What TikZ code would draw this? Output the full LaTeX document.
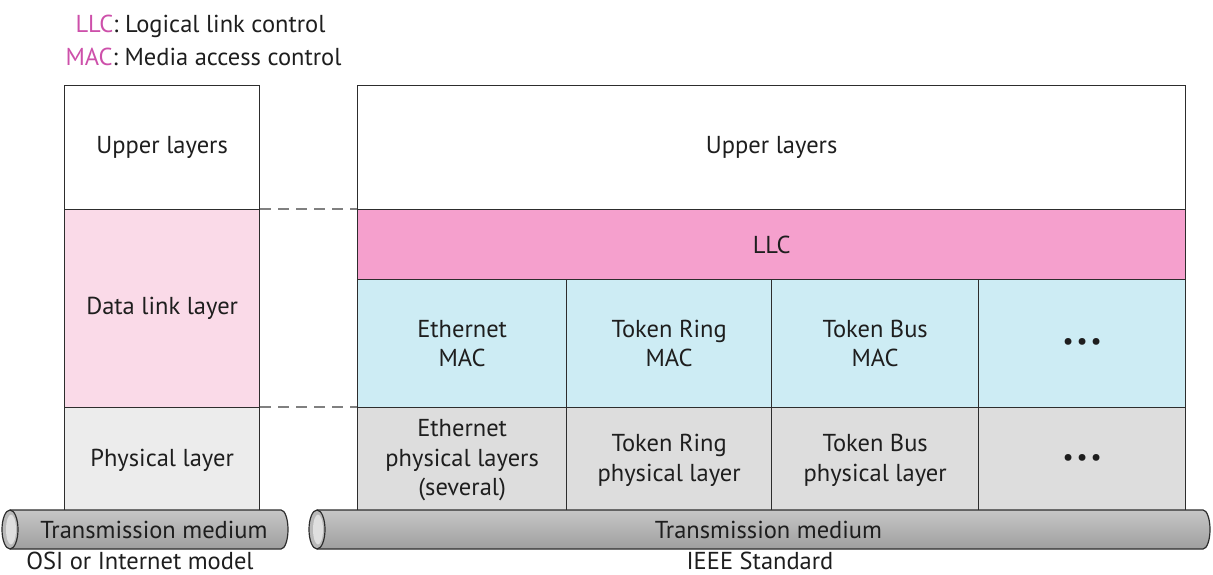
\documentclass[tikz,border=0pt]{standalone}
\usepackage{fontspec}
\setmainfont{PT Sans}
\usetikzlibrary{positioning}
\definecolor{llcpink}{RGB}{245,160,205}
\definecolor{dlpink}{RGB}{250,218,232}
\definecolor{macblue}{RGB}{205,236,244}
\definecolor{phygray}{RGB}{221,221,221}
\definecolor{osigray}{RGB}{236,236,236}
\definecolor{legmag}{RGB}{205,80,170}
\definecolor{edgegray}{RGB}{45,45,45}
\definecolor{txtgray}{RGB}{30,30,30}

\begin{document}
\begin{tikzpicture}[x=1pt, y=-1pt, font=\fontsize{24.5}{29.5}\selectfont, text=txtgray,
    layer/.style={draw=edgegray, line width=1.3pt, inner sep=0pt, align=center, anchor=north west},
    gap/.style={draw=gray, line width=1.6pt, dash pattern=on 11pt off 7pt}]
    \useasboundingbox (0,0) rectangle (1213,575);

    % legend
    \node[anchor=west] (legllc) at (72,26) {\textcolor{legmag}{LLC}: Logical link control};
    \node[anchor=west] (legmac) at (62,57) {\textcolor{legmag}{MAC}: Media access control};

    % OSI column
    \node[layer, fill=white, minimum width=195, minimum height=124] (osiup) at (64,85) {Upper layers};
    \node[layer, fill=dlpink, minimum width=195, minimum height=198] (osidl) at (64,209) {Data link layer};
    \node[layer, fill=osigray, minimum width=195, minimum height=105] (osiphy) at (64,407) {Physical layer};

    % IEEE block
    \node[layer, fill=white, minimum width=828, minimum height=124] (ieeeup) at (357,85) {Upper layers};
    \node[layer, fill=llcpink, minimum width=828, minimum height=70] (llc) at (357,209) {LLC};
    \node[layer, fill=macblue, minimum width=209, minimum height=128] (ethmac) at (357,279) {Ethernet\\MAC};
    \node[layer, fill=macblue, minimum width=205, minimum height=128] (trmac) at (566,279) {Token Ring\\MAC};
    \node[layer, fill=macblue, minimum width=207, minimum height=128] (tbmac) at (771,279) {Token Bus\\MAC};
    \node[layer, fill=macblue, minimum width=207, minimum height=128] (moremac) at (978,279) {\textbullet\hspace{3pt}\textbullet\hspace{3pt}\textbullet};
    \node[layer, fill=phygray, minimum width=209, minimum height=105] (ethphy) at (357,407) {Ethernet\\physical layers\\(several)};
    \node[layer, fill=phygray, minimum width=205, minimum height=105] (trphy) at (566,407) {Token Ring\\physical layer};
    \node[layer, fill=phygray, minimum width=207, minimum height=105] (tbphy) at (771,407) {Token Bus\\physical layer};
    \node[layer, fill=phygray, minimum width=207, minimum height=105] (morephy) at (978,407) {\textbullet\hspace{3pt}\textbullet\hspace{3pt}\textbullet};

    \draw[gap] (osidl.north east) -- (llc.north west);
    \draw[gap] (osiphy.north east) -- (ethphy.north west);

    % transmission media
    \foreach \a/\b/\m in {10/288/osimed, 317/1210/ieeemed} {
        \shade[top color=gray!45, middle color=gray!12, bottom color=gray!75]
            (\a,510) -- (\b-7,510) arc[start angle=-90, end angle=90, x radius=7, y radius=19.5]
            -- (\a,549) arc[start angle=90, end angle=270, x radius=8, y radius=19.5] -- cycle;
        \draw[edgegray, line width=1.2pt]
            (\a,510) -- (\b-7,510) arc[start angle=-90, end angle=90, x radius=7, y radius=19.5]
            -- (\a,549);
        \draw[edgegray, line width=1.2pt, fill=gray!55] (\a,529.5) ellipse[x radius=8, y radius=19.5];
        \fill[gray!25] (\a+1,529.5) ellipse[x radius=5, y radius=15];
        \coordinate (\m) at ({(\a+\b)/2+5},529.5);
    }
    \node (osimedtxt) at (osimed) {Transmission medium};
    \node (ieeemedtxt) at (ieeemed) {Transmission medium};

    \node[inner sep=1pt] (osicap) at (140,561) {OSI or Internet model};
    \node[inner sep=1pt] (ieeecap) at (760,561) {IEEE Standard};
\end{tikzpicture}
\end{document}
